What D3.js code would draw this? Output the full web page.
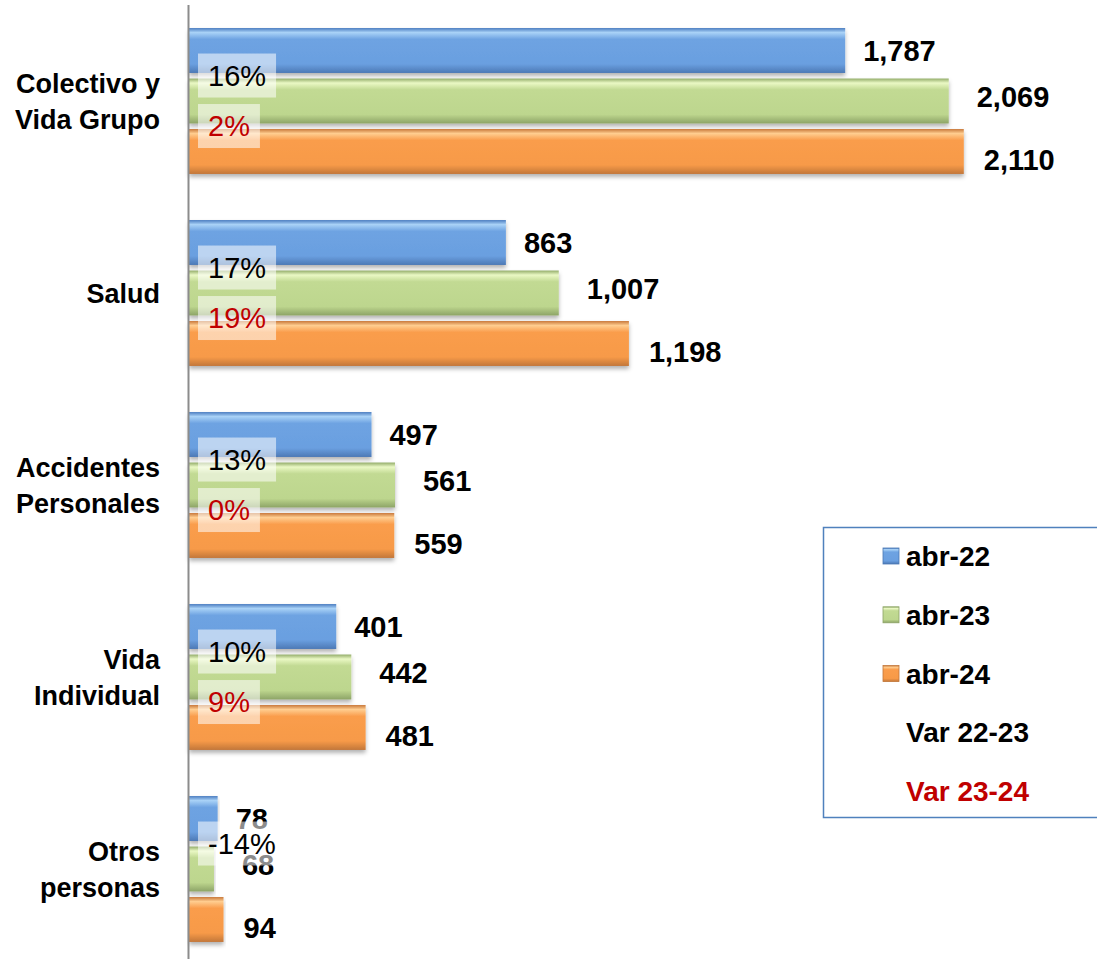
<!DOCTYPE html>
<html>
<head>
<meta charset="utf-8">
<script src="https://cdn.jsdelivr.net/npm/d3@7"></script>
<style>
  body { margin: 0; background: #fff; }
  svg { display: block; font-family: "Liberation Sans", Arial, sans-serif; }
</style>
</head>
<body>
<svg class="chart"></svg>
<script>
// values
var categories = ["Colectivo y\nVida Grupo", "Salud", "Accidentes\nPersonales", "Vida\nIndividual", "Otros\npersonas"];
var seriesNames = ["abr-22", "abr-23", "abr-24"];
var abr22 = [1787, 863, 497, 401, 78];
var abr23 = [2069, 1007, 561, 442, 68];
var abr24 = [2110, 1198, 559, 481, 94];
var var2223 = [16, 17, 13, 10, -14];
var var2324 = [2, 19, 0, 9, null];
var varNames = ["Var 22-23", "Var 23-24"];

var width = 1097;
var height = 959;

var svg = d3.select(".chart").attr("width", width).attr("height", height);

// gradients to fake the bevelled excel bars
var grads = [
  { id: "g0", stops: ["#4a7cc0", "#a9d2f7", "#6ea3e2", "#6a9fe0", "#4c79b5"] },
  { id: "g1", stops: ["#93ad6a", "#eaf8c4", "#c2da93", "#bdd68e", "#8da466"] },
  { id: "g2", stops: ["#c8783a", "#ffcd8f", "#fa9d4c", "#f79a48", "#c2773a"] }
];
var defs = svg.append("defs");
grads.forEach(function (g) {
  var lg = defs.append("linearGradient").attr("id", g.id)
    .attr("x1", 0).attr("y1", 0).attr("x2", 0).attr("y2", 1);
  [0, 0.1, 0.25, 0.8, 1].forEach(function (o, i) {
    lg.append("stop").attr("offset", o).attr("stop-color", g.stops[i]);
  });
});
defs.append("filter").attr("id", "shadow")
  .attr("x", -0.05).attr("y", -0.1).attr("width", 1.1).attr("height", 1.4)
  .append("feDropShadow")
  .attr("dx", 0).attr("dy", 3).attr("stdDeviation", 2)
  .attr("flood-color", "#000").attr("flood-opacity", 0.3);

var x = d3.scaleLinear().domain([0, 2500]).range([189, 1107]);

var y0 = d3.scaleBand().domain(categories).range([5, 965])
  .paddingInner(0.24).paddingOuter(0.12);

var y1 = d3.scaleBand().domain(seriesNames).range([0, y0.bandwidth()])
  .paddingInner(0.11);

var rows = categories.map(function (c, i) {
  return { cat: c, vals: [abr22[i], abr23[i], abr24[i]], v1: var2223[i], v2: var2324[i] };
});

var groups = svg.selectAll("g.cat").data(rows).enter().append("g")
  .attr("class", "cat")
  .attr("transform", function (d) { return "translate(0," + y0(d.cat) + ")"; });

// bars
groups.selectAll("rect.bar")
  .data(function (d) { return d.vals.map(function (v, j) { return { v: v, s: seriesNames[j], j: j }; }); })
  .enter().append("rect")
  .attr("class", "bar")
  .attr("x", x(0))
  .attr("y", function (d) { return y1(d.s); })
  .attr("width", function (d) { return x(d.v) - x(0); })
  .attr("height", y1.bandwidth())
  .attr("fill", function (d) { return "url(#g" + d.j + ")"; })
  .attr("filter", "url(#shadow)");

// value labels next to the bars
var fmt = d3.format(",");
var ldx = [18, 28, 20];
var ldy = [0, -4, 8];
groups.selectAll("text.val")
  .data(function (d) { return d.vals.map(function (v, j) { return { v: v, s: seriesNames[j], j: j }; }); })
  .enter().append("text")
  .attr("class", "val")
  .attr("x", function (d) { return x(d.v) + ldx[d.j]; })
  .attr("y", function (d) { return y1(d.s) + y1.bandwidth() / 2 + ldy[d.j]; })
  .attr("dy", "0.36em")
  .attr("font-size", 29)
  .attr("font-weight", "bold")
  .attr("fill", "#000")
  .text(function (d) { return fmt(d.v); });

// percent change labels in white boxes
function pctLabel(sel, key, nextSeries, color) {
  var g = sel.filter(function (d) { return d[key] != null; }).append("g")
    .attr("transform", function () { return "translate(198," + (y1(nextSeries) - 3) + ")"; });
  var t = g.append("text")
    .attr("x", 10)
    .attr("dy", "0.36em")
    .attr("font-size", 29)
    .attr("fill", color)
    .text(function (d) { return d[key] + "%"; });
  t.each(function () {
    var w = this.getComputedTextLength();
    d3.select(this.parentNode).insert("rect", "text")
      .attr("x", 0).attr("y", -22)
      .attr("width", w + 20).attr("height", 44)
      .attr("fill", "#fff").attr("fill-opacity", 0.55);
  });
}
pctLabel(groups, "v1", "abr-23", "#000");
pctLabel(groups, "v2", "abr-24", "#c00000");

// vertical axis line
svg.append("line")
  .attr("x1", 188.5).attr("x2", 188.5)
  .attr("y1", 5).attr("y2", height)
  .attr("stroke", "#8c8c8c").attr("stroke-width", 2);

// category labels
groups.append("text")
  .attr("text-anchor", "end")
  .attr("font-size", 27)
  .attr("font-weight", "bold")
  .attr("fill", "#000")
  .each(function (d) {
    var lines = d.cat.split("\n");
    var t = d3.select(this);
    var mid = y0.bandwidth() / 2;
    lines.forEach(function (l, k) {
      t.append("tspan")
        .attr("x", 160)
        .attr("y", mid + (k - (lines.length - 1) / 2) * 36)
        .attr("dy", "0.36em")
        .text(l);
    });
  });

// legend
var lg = svg.append("g");
lg.append("rect")
  .attr("x", 823.5).attr("y", 527.5)
  .attr("width", 300).attr("height", 290)
  .attr("fill", "#fff").attr("stroke", "#4f81bd").attr("stroke-width", 1.5);

var legendItems = seriesNames.map(function (s, j) { return { name: s, sw: j, color: "#000" }; })
  .concat(varNames.map(function (s, j) { return { name: s, sw: null, color: j === 0 ? "#000" : "#c00000" }; }));

var li = lg.selectAll("g.li").data(legendItems).enter().append("g")
  .attr("class", "li")
  .attr("transform", function (d, i) { return "translate(0," + (556 + i * 58.8) + ")"; });

li.filter(function (d) { return d.sw != null; }).append("rect")
  .attr("x", 883).attr("y", -8).attr("width", 16).attr("height", 16)
  .attr("fill", function (d) { return "url(#g" + d.sw + ")"; })
  .attr("stroke", function (d) { return ["#4c79b5", "#8da466", "#c2773a"][d.sw]; })
  .attr("stroke-width", 0.8);

li.append("text")
  .attr("x", 906)
  .attr("dy", "0.36em")
  .attr("font-size", 28)
  .attr("font-weight", "bold")
  .attr("fill", function (d) { return d.color; })
  .text(function (d) { return d.name; });
</script>
</body>
</html>
